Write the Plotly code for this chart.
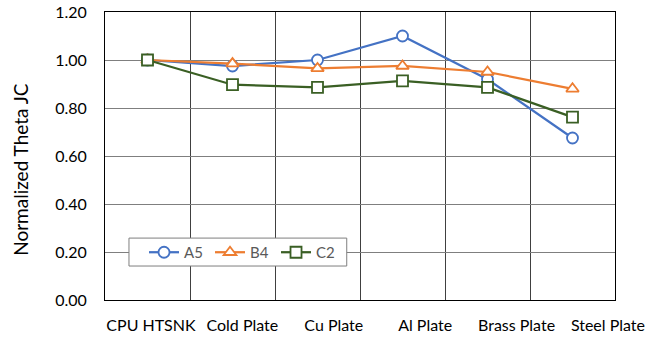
import plotly.graph_objects as go

categories = ["CPU HTSNK", "Cold Plate", "Cu Plate", "Al Plate", "Brass Plate", "Steel Plate"]
a5 = [1.00, 0.975, 1.00, 1.10, 0.92, 0.675]
b4 = [1.00, 0.985, 0.965, 0.975, 0.95, 0.88]
c2 = [1.00, 0.897, 0.886, 0.913, 0.886, 0.762]
y_ticks = [0.0, 0.2, 0.4, 0.6, 0.8, 1.0, 1.2]
y_title = "Normalized Theta JC"

series = [
    ("A5", a5, "#4472C4", "circle"),
    ("B4", b4, "#ED7D31", "triangle-up"),
    ("C2", c2, "#3A5F24", "square"),
]

fig = go.Figure()
for name, vals, color, sym in series:
    fig.add_trace(go.Scatter(
        x=categories, y=vals, name=name, mode="lines+markers",
        line=dict(color=color, width=2.25),
        marker=dict(symbol=sym, size=11, color="white", line=dict(color=color, width=1.8)),
    ))

# label-only axis (Excel spreads the category labels slightly wider than the plot)
fig.add_trace(go.Scatter(
    x=categories, y=[None] * len(categories), xaxis="x2", mode="markers",
    showlegend=False, hoverinfo="skip",
))

font = "Lato, Carlito, 'Open Sans', sans-serif"
fig.update_layout(
    width=660, height=339,
    margin=dict(l=105, r=45, t=12, b=39, autoexpand=False),
    paper_bgcolor="white", plot_bgcolor="white",
    font=dict(family=font, size=16, color="#000000"),
    showlegend=True,
    legend=dict(
        orientation="h", x=0.0765, y=0.165, xanchor="left", yanchor="middle",
        bgcolor="rgba(0,0,0,0)", borderwidth=0,
        font=dict(size=15, color="#595959"),
        itemwidth=30, tracegroupgap=0,
        entrywidth=21, entrywidthmode="pixels",
    ),
    xaxis=dict(
        type="category", range=[-0.5, 5.5], tickson="boundaries", automargin=False,
        showgrid=True, gridcolor="#404040", gridwidth=1,
        showline=True, linecolor="#000000", linewidth=1, mirror=True,
        ticks="", showticklabels=False,
    ),
    xaxis2=dict(
        type="category", overlaying="x", side="bottom", range=[-0.503, 5.077],
        automargin=False, showgrid=False, showline=False, zeroline=False,
        ticks="", tickangle=0, ticklabelstandoff=14, tickfont=dict(size=16),
    ),
    yaxis=dict(
        range=[0, 1.2], tickvals=y_ticks, ticktext=[f"{v:.2f}" for v in y_ticks],
        automargin=False,
        showgrid=True, gridcolor="#7F7F7F", gridwidth=1,
        showline=True, linecolor="#000000", linewidth=1, mirror=True,
        zeroline=False, ticks="", ticklabelstandoff=14, tickfont=dict(size=16),
    ),
    shapes=[dict(
        type="rect", xref="paper", yref="paper",
        x0=0.047, x1=0.474, y0=0.118, y1=0.215,
        fillcolor="white", line=dict(color="#7F7F7F", width=1), layer="above",
    )],
    annotations=[dict(
        text=y_title, textangle=-90, showarrow=False,
        xref="paper", yref="paper", x=-0.165, y=0.455,
        xanchor="center", yanchor="middle",
        font=dict(size=19, color="#000000"),
    )],
)

fig.write_html("out.html")
